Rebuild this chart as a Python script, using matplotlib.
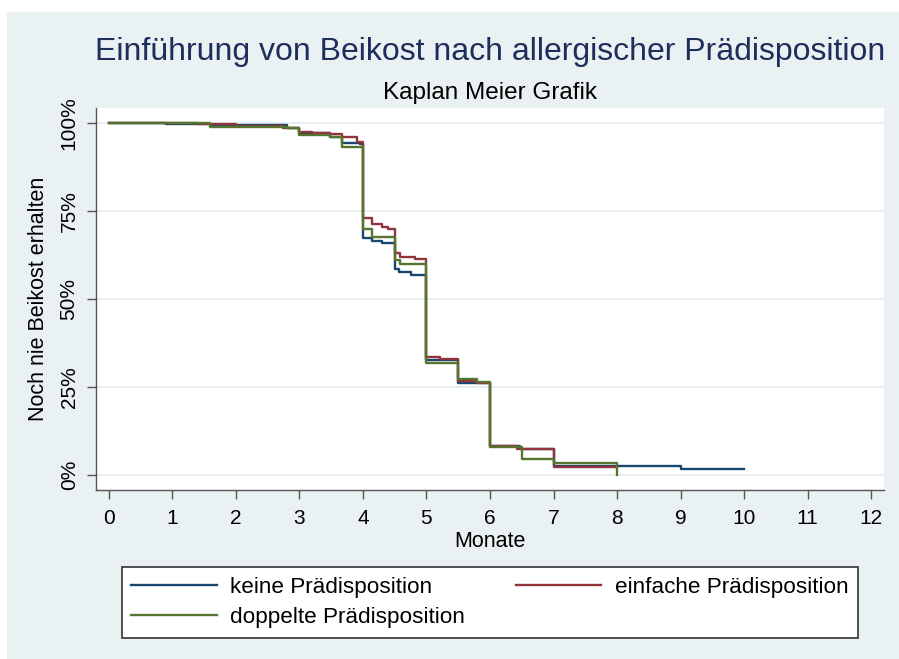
import matplotlib
matplotlib.use("Agg")
import matplotlib.pyplot as plt
from matplotlib.patches import Rectangle

plt.rcParams['font.family'] = ['Liberation Sans', 'DejaVu Sans']

# Kaplan-Meier step estimates (months, share without Beikost)
keine_t = [0, 0.9, 1.6, 2.8, 3.0, 3.48, 3.67, 3.95, 4.0, 4.14, 4.3, 4.5, 4.57, 4.76, 5.0, 5.5, 6.0, 6.47, 7.0, 9.0, 10.0]
keine_s = [1.0, 0.997, 0.994, 0.985, 0.971, 0.961, 0.944, 0.940, 0.672, 0.665, 0.659, 0.584, 0.576, 0.569, 0.327, 0.262, 0.082, 0.074, 0.024, 0.016, 0.016]

einfach_t = [0, 1.4, 2.0, 2.75, 3.0, 3.2, 3.48, 3.67, 3.9, 4.0, 4.14, 4.3, 4.4, 4.5, 4.59, 4.82, 5.0, 5.21, 5.5, 5.79, 6.0, 6.42, 7.0, 8.0]
einfach_s = [1.0, 0.997, 0.992, 0.985, 0.974, 0.971, 0.968, 0.961, 0.947, 0.729, 0.713, 0.705, 0.700, 0.632, 0.620, 0.613, 0.336, 0.329, 0.268, 0.262, 0.082, 0.074, 0.022, 0.022]

doppelt_t = [0, 1.6, 2.8, 3.0, 3.48, 3.67, 4.0, 4.14, 4.5, 4.59, 5.0, 5.5, 5.8, 6.0, 6.5, 7.0, 8.0]
doppelt_s = [1.0, 0.990, 0.987, 0.966, 0.960, 0.933, 0.698, 0.675, 0.611, 0.600, 0.319, 0.272, 0.264, 0.080, 0.045, 0.035, 0.0]

labels = ['keine Prädisposition', 'einfache Prädisposition', 'doppelte Prädisposition']
colors = ['#1a476f', '#90353b', '#55752f']

x_ticks = list(range(0, 13))
y_ticks = [0, 0.25, 0.5, 0.75, 1.0]
y_ticklabels = ['0%', '25%', '50%', '75%', '100%']

W, H = 899, 659
fig = plt.figure(figsize=(W / 100, H / 100), dpi=100)
fig.patch.set_facecolor('white')
fig.patches.append(Rectangle((7 / W, 0), 1 - 7 / W, 1 - 12 / H, transform=fig.transFigure,
                             facecolor='#e9f1f2', edgecolor='none', zorder=-5))

ax = fig.add_axes([96 / W, (H - 490) / H, (884 - 96) / W, (490 - 108) / H])
ax.set_facecolor('white')

lines = []
for t, s, lab, c in zip([keine_t, einfach_t, doppelt_t], [keine_s, einfach_s, doppelt_s], labels, colors):
    ln, = ax.step(t, s, where='post', color=c, lw=1.7, label=lab, zorder=3)
    lines.append(ln)

ax.set_xlim(-0.2, 12.2)
ax.set_ylim(-0.043, 1.043)
ax.set_xticks(x_ticks)
ax.set_yticks(y_ticks)
ax.set_yticklabels(y_ticklabels, rotation=90, va='center')
ax.grid(axis='y', color='#e6eef0', lw=1.4)
ax.set_axisbelow(True)

for side in ['top', 'right']:
    ax.spines[side].set_visible(False)
for side in ['left', 'bottom']:
    ax.spines[side].set_color('#555555')
    ax.spines[side].set_linewidth(1.0)
ax.tick_params(axis='both', direction='out', length=6.5, width=1.0, color='#555555', labelsize=15)
ax.tick_params(axis='x', pad=7)
ax.tick_params(axis='y', pad=6)

ax.set_xlabel('Monate', fontsize=15.5, labelpad=2)
ax.set_ylabel('Noch nie Beikost erhalten', fontsize=15.5, labelpad=8)

fig.text(490 / W, 1 - 52 / H, 'Einführung von Beikost nach allergischer Prädisposition',
         ha='center', va='center', fontsize=23, color='#1f2d5c')
fig.text(490 / W, 1 - 93 / H, 'Kaplan Meier Grafik', ha='center', va='center', fontsize=17.5, color='black')

# row-major order: keine, einfache / doppelte
leg = fig.legend([lines[0], lines[2], lines[1]], [labels[0], labels[2], labels[1]],
                 ncol=2, loc='center', mode='expand', borderaxespad=0,
                 bbox_to_anchor=(122 / W, 1 - 640 / H, (858 - 122) / W, 75 / H),
                 fontsize=16.2, handlelength=3.8, handletextpad=0.6,
                 labelspacing=0.42, borderpad=0.42, fancybox=False, framealpha=1)
leg.get_frame().set_edgecolor('#333333')
leg.get_frame().set_linewidth(1.2)
for ln in leg.get_lines():
    ln.set_linewidth(1.7)

fig.savefig('out.png', dpi=100)
